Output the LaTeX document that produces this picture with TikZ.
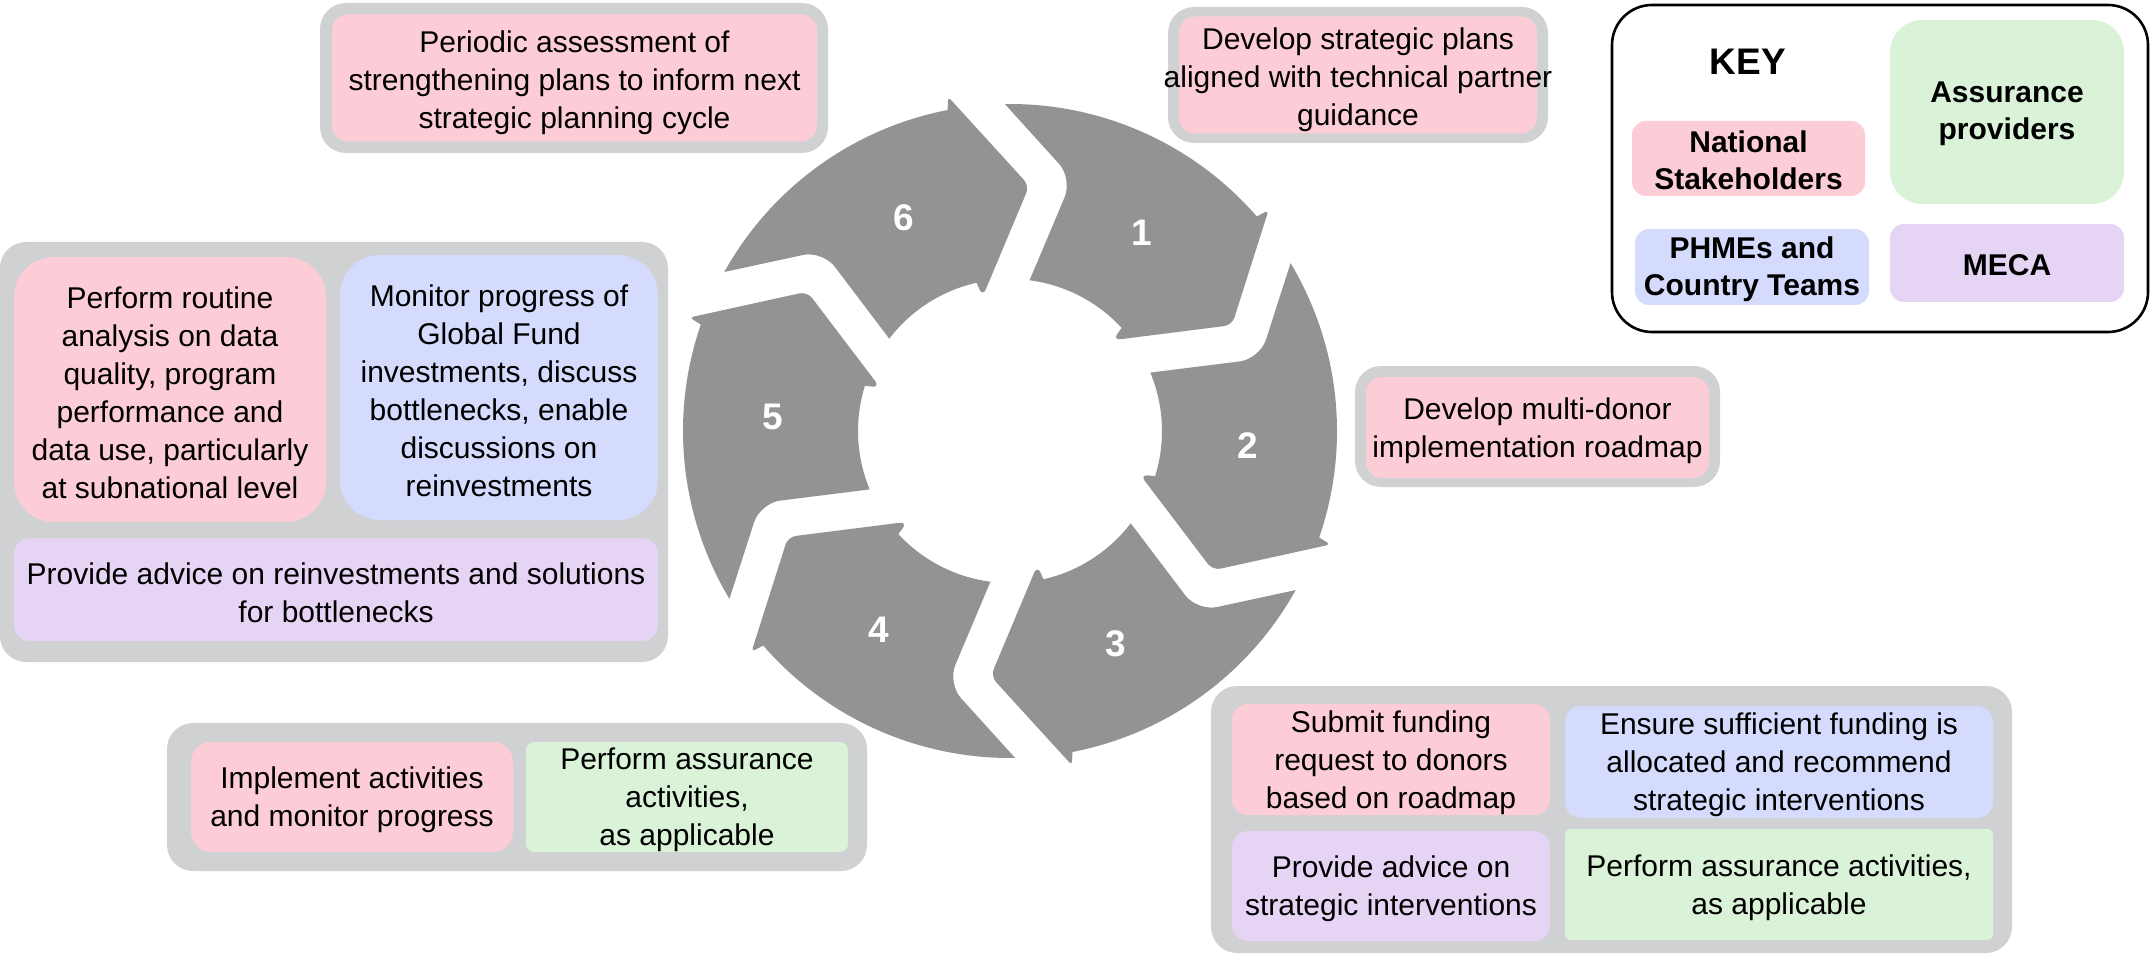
\documentclass[tikz,border=0pt]{standalone}
\usepackage{fontspec}
\setmainfont{Liberation Sans}
\definecolor{pinkf}{RGB}{252,205,214}
\definecolor{greenf}{RGB}{218,242,216}
\definecolor{bluef}{RGB}{212,219,252}
\definecolor{purplef}{RGB}{229,212,244}
\definecolor{greyb}{RGB}{208,209,211}
\definecolor{arrowg}{RGB}{147,147,147}
\begin{document}
\begin{tikzpicture}[x=0.5pt,y=-0.5pt]
\tikzset{
  gbox/.style={rectangle, fill=greyb, rounded corners=13pt, inner sep=0pt},
  cbox/.style={rectangle, inner sep=0pt, rounded corners=#1},
  txt/.style={inner sep=0pt, align=center, font=\fontsize{15}{19}\selectfont},
  ktxt/.style={inner sep=0pt, align=center, font=\fontsize{15}{18.5}\selectfont\bfseries},
  wh/.style n args={2}{minimum width=#1*0.5pt, minimum height=#2*0.5pt},
  num/.style={text=white, font=\fontsize{18.5}{20}\selectfont\bfseries},
}
\useasboundingbox (0,0) rectangle (2152,957);

% top box
\node[gbox, wh={508}{150}] (g1) at (574,78) {};
\node[cbox=8pt, fill=pinkf, wh={485}{127}] (b1) at (574.5,78) {};
\node[txt] (t1) at ([yshift=-2.5pt]b1.center) {Periodic assessment of\\strengthening plans to inform next\\strategic planning cycle};

% box 1
\node[gbox, wh={380}{136}] (g2) at (1358,75) {};
\node[cbox=8pt, fill=pinkf, wh={358}{117}] (b2) at (1358,75) {};
\node[txt] (t2) at ([yshift=-2.5pt]b2.center) {Develop strategic plans\\aligned with technical partner\\guidance};

% box 2
\node[gbox, wh={365}{121}] (g3) at (1537.5,426.5) {};
\node[cbox=8pt, fill=pinkf, wh={343}{101}] (b3) at (1537.5,427.5) {};
\node[txt] (t3) at ([yshift=-1.5pt]b3.center) {Develop multi-donor\\implementation roadmap};

% key
\node[rectangle, draw=black, line width=1.3pt, rounded corners=20pt, wh={536}{327}] (key) at (1880,168.5) {};
\node[font=\fontsize{18.5}{20}\selectfont\bfseries] (keyt) at (1748,62) {KEY};
\node[cbox=7pt, fill=pinkf, wh={233}{75}] (kb1) at (1748.5,158.5) {};
\node[ktxt] (k1) at ([yshift=-1pt]kb1.center) {National\\Stakeholders};
\node[cbox=16pt, fill=greenf, wh={234}{184}] (kb2) at (2007,112) {};
\node[ktxt] (k2) at ([yshift=-1pt]kb2.center) {Assurance\\providers};
\node[cbox=7pt, fill=bluef, wh={234}{76}] (kb3) at (1752,267) {};
\node[ktxt] (k3) at ([yshift=-1pt]kb3.center) {PHMEs and\\Country Teams};
\node[cbox=7pt, fill=purplef, wh={234}{78}] (kb4) at (2007,263) {};
\node[ktxt] (k4) at ([yshift=-1pt]kb4.center) {MECA};

% left group
\node[gbox, wh={668}{420}] (g4) at (334,452) {};
\node[cbox=20pt, fill=pinkf, wh={312}{265}] (b4a) at (170,389.5) {};
\node[txt] (t4a) at ([yshift=-1.5pt]b4a.center) {Perform routine\\analysis on data\\quality, program\\performance and\\data use, particularly\\at subnational level};
\node[cbox=20pt, fill=bluef, wh={318}{265}] (b4b) at (499,387.5) {};
\node[txt] (t4b) at ([yshift=-1.5pt]b4b.center) {Monitor progress of\\Global Fund\\investments, discuss\\bottlenecks, enable\\discussions on\\reinvestments};
\node[cbox=8pt, fill=purplef, wh={644}{103}] (b4c) at (336,589.5) {};
\node[txt] (t4c) at ([yshift=-1.5pt]b4c.center) {Provide advice on reinvestments and solutions\\for bottlenecks};

% bottom-left group
\node[gbox, wh={700}{148}] (g5) at (517,797) {};
\node[cbox=10pt, fill=pinkf, wh={322}{110}] (b5a) at (352,797) {};
\node[txt] (t5a) at ([yshift=-1.5pt]b5a.center) {Implement activities\\and monitor progress};
\node[cbox=4pt, fill=greenf, wh={322}{110}] (b5b) at (687,797) {};
\node[txt] (t5b) at ([yshift=-1.5pt]b5b.center) {Perform assurance\\activities,\\as applicable};

% bottom-right group
\node[gbox, wh={801}{267}] (g6) at (1611.5,819.5) {};
\node[cbox=8pt, fill=pinkf, wh={318}{111}] (b6a) at (1391,759.5) {};
\node[txt] (t6a) at ([yshift=-1.5pt]b6a.center) {Submit funding\\request to donors\\based on roadmap};
\node[cbox=8pt, fill=bluef, wh={428}{112}] (b6b) at (1779,762) {};
\node[txt] (t6b) at ([yshift=-1.5pt]b6b.center) {Ensure sufficient funding is\\allocated and recommend\\strategic interventions};
\node[cbox=8pt, fill=purplef, wh={318}{110}] (b6c) at (1391,886) {};
\node[txt] (t6c) at ([yshift=-1.5pt]b6c.center) {Provide advice on\\strategic interventions};
\node[cbox=3pt, fill=greenf, wh={428}{111}] (b6d) at (1779,884.5) {};
\node[txt] (t6d) at ([yshift=-1.5pt]b6d.center) {Perform assurance activities,\\as applicable};

% cycle
\begin{scope}[shift={(1010,431)}, yscale=-1]
\foreach \T [count=\i] in {90,30,-30,-90,-150,-210} {
  \fill[arrowg] ({\T+0.9}:327) arc[start angle=\T+0.9, end angle=\T-49, radius=327]
    [rounded corners=2pt] -- ({\T-49.5}:340) [rounded corners=4pt] -- ({\T-64.5}:246) -- ({\T-48.5}:137)
    [sharp corners] -- ({\T-47.3}:152)
    arc[start angle=\T-47.3, end angle=\T-7.4, radius=152]
    [rounded corners=10pt] -- ({\T-13.9}:260) [sharp corners] -- cycle;
  \node[num] (n\i) at ({\T-33.5}:238) {\i};
}
\end{scope}
\end{tikzpicture}
\end{document}
